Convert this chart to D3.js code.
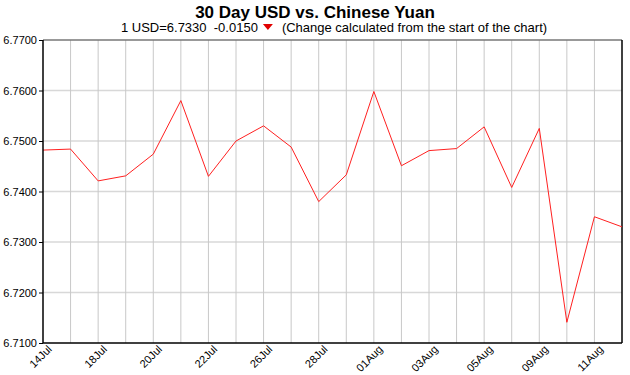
<!DOCTYPE html>
<html>
<head>
<meta charset="utf-8">
<script src="https://cdn.jsdelivr.net/npm/d3@7"></script>
<style>
  html, body { margin: 0; padding: 0; background: #fff; }
  svg { display: block; font-family: "Liberation Sans", Arial, sans-serif; }
</style>
</head>
<body>
<div id="chart"></div>
<script>
// ---- data (USD/CNY closing rates) ----
const dates = ['14Jul', '15Jul', '18Jul', '19Jul', '20Jul', '21Jul', '22Jul', '25Jul', '26Jul', '27Jul', '28Jul',
  '29Jul', '01Aug', '02Aug', '03Aug', '04Aug', '05Aug', '08Aug', '09Aug', '10Aug', '11Aug', '12Aug'];
const rates = [6.7482, 6.7484, 6.7421, 6.7431, 6.7474, 6.7580, 6.7430, 6.7500, 6.7530, 6.7488, 6.7380,
  6.7433, 6.7598, 6.7451, 6.7481, 6.7485, 6.7528, 6.7408, 6.7525, 6.7141, 6.7350, 6.7330];
const tickLabels = ['14Jul', '18Jul', '20Jul', '22Jul', '26Jul', '28Jul', '01Aug', '03Aug', '05Aug', '09Aug', '11Aug'];
const yTicks = [6.71, 6.72, 6.73, 6.74, 6.75, 6.76, 6.77];

const titleText = '30 Day USD vs. Chinese Yuan';
const subLeft = '1 USD=6.7330  -0.0150';
const subRight = '(Change calculated from the start of the chart)';

const W = 630, H = 375;
const margin = { top: 40, right: 8, bottom: 32, left: 43 };
const width = W - margin.left - margin.right;
const height = H - margin.top - margin.bottom;

const svg = d3.select('#chart').append('svg').attr('width', W).attr('height', H);

// ---- titles ----
svg.append('text').attr('x', W / 2).attr('y', 18).attr('text-anchor', 'middle')
  .attr('font-size', '17px').attr('font-weight', 'bold').attr('fill', '#000').text(titleText);

const sub = svg.append('g');
const t1 = sub.append('text').attr('y', 32).attr('font-size', '13px').attr('fill', '#000')
  .style('white-space', 'pre').text(subLeft);
const t2 = sub.append('text').attr('y', 32).attr('font-size', '13px').attr('fill', '#000').text(subRight);
const w1 = t1.node().getComputedTextLength();
const w2 = t2.node().getComputedTextLength();
const gap = 24;
const startX = W / 2 - (w1 + gap + w2) / 2 + 19;
t1.attr('x', startX);
t2.attr('x', startX + w1 + gap);
const triX = startX + w1 + 10;
sub.append('path')
  .attr('d', `M${triX - 5},${24} L${triX + 5},${24} L${triX},${30} Z`)
  .attr('fill', '#e00000');

const g = svg.append('g').attr('transform', `translate(${margin.left},${margin.top})`);

const x = d3.scalePoint().domain(dates).range([0, width]);
const y = d3.scaleLinear().domain([6.71, 6.77]).range([height, 0]);

// ---- grid ----
g.append('g').selectAll('line').data(yTicks.slice(1, -1)).join('line')
  .attr('x1', 0).attr('x2', width).attr('y1', d => y(d)).attr('y2', d => y(d))
  .attr('stroke', '#d8d8d8').attr('stroke-width', 1.5);
g.append('g').selectAll('line').data(dates.slice(1, -1)).join('line')
  .attr('x1', d => x(d)).attr('x2', d => x(d)).attr('y1', 0).attr('y2', height)
  .attr('stroke', '#c8c8c8').attr('stroke-width', 1);

// ---- frame ----
g.append('line').attr('x1', 0).attr('x2', width).attr('y1', 0).attr('y2', 0)
  .attr('stroke', '#777').attr('stroke-width', 1.5);
g.append('line').attr('x1', width).attr('x2', width).attr('y1', 0).attr('y2', height)
  .attr('stroke', '#000').attr('stroke-width', 1.5);

// ---- line ----
const line = d3.line().x((d, i) => x(dates[i])).y(d => y(d));
g.append('path').datum(rates).attr('d', line)
  .attr('fill', 'none').attr('stroke', '#ff2020').attr('stroke-width', 1);

// ---- axes ----
const yAxis = g.append('g')
  .call(d3.axisLeft(y).tickValues(yTicks).tickSize(4).tickPadding(2).tickFormat(d3.format('.4f')));
const xAxis = g.append('g').attr('transform', `translate(0,${height})`)
  .call(d3.axisBottom(x).tickValues(tickLabels).tickSize(0).tickPadding(0));

[xAxis, yAxis].forEach(axis => {
  axis.select('.domain').attr('stroke', '#000').attr('stroke-width', 1.5);
  axis.selectAll('.tick line').attr('stroke', '#000');
  axis.selectAll('text').attr('fill', '#000').attr('font-size', '11px')
    .attr('font-family', '"Liberation Sans", Arial, sans-serif');
});
xAxis.select('.domain').attr('d', `M0,0H${width}`);
yAxis.select('.domain').attr('d', `M0,0V${height}`);

xAxis.selectAll('text')
  .attr('text-anchor', 'end').attr('dy', 0)
  .attr('transform', 'translate(9,7) rotate(-45)')
  .attr('font-size', '11px');
</script>
</body>
</html>
